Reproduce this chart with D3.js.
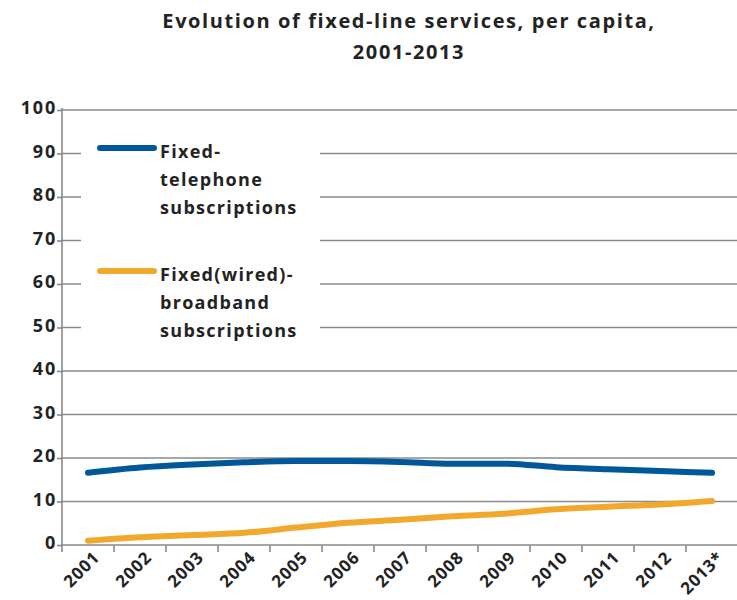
<!DOCTYPE html>
<html>
<head>
<meta charset="utf-8">
<script src="https://cdn.jsdelivr.net/npm/d3@7"></script>
<style>
  body { margin: 0; background: #fff; }
  svg { display: block; }
  text { font-family: "Open Sans", "DejaVu Sans", sans-serif; font-weight: bold; fill: #232323; }
</style>
</head>
<body>
<svg id="chart" width="737" height="600"></svg>
<script>
const years = ["2001","2002","2003","2004","2005","2006","2007","2008","2009","2010","2011","2012","2013*"];
const fixedTelephone = [16.6, 17.8, 18.5, 19.0, 19.3, 19.3, 19.1, 18.7, 18.7, 17.9, 17.4, 17.0, 16.6];
const fixedBroadband = [1.0, 1.8, 2.3, 2.8, 4.0, 5.1, 5.8, 6.6, 7.2, 8.2, 8.8, 9.3, 10.1];
const yTicks = [0, 10, 20, 30, 40, 50, 60, 70, 80, 90, 100];
const titleLines = ["Evolution of fixed-line services, per capita,", "2001-2013"];
const seriesNames = [["Fixed-", "telephone", "subscriptions"], ["Fixed(wired)-", "broadband", "subscriptions"]];
const seriesColors = ["#00589a", "#f2a82c"];

(function () {
const svg = d3.select("#chart");
const mLeft = 62, mRight = 738, mTop = 110, mBottom = 545;
const gridColor = "#8a8a8a";

const x = d3.scaleBand().domain(years).range([mLeft, mRight]).padding(0);
const y = d3.scaleLinear().domain([0, 100]).range([mBottom, mTop]);

// title
svg.selectAll("text.title").data(titleLines).enter().append("text")
  .attr("class", "title")
  .attr("x", 409).attr("y", (d, i) => 28 + i * 31)
  .attr("text-anchor", "middle")
  .style("font-size", "20px")
  .style("letter-spacing", "1.6px")
  .text(d => d);

// gridlines
svg.append("g").selectAll("line").data(yTicks.filter(t => t > 0)).enter().append("line")
  .attr("x1", mLeft).attr("x2", 737)
  .attr("y1", d => y(d)).attr("y2", d => y(d))
  .attr("stroke", gridColor).attr("stroke-width", 1.6);

// y axis
const yAxis = d3.axisLeft(y).tickValues(yTicks).tickSize(5).tickPadding(0);
const gy = svg.append("g").attr("transform", `translate(${mLeft},0)`).call(yAxis);
gy.select(".domain").attr("stroke", gridColor).attr("stroke-width", 1.6)
  .attr("d", `M0,${mTop - 2}V${mBottom + 7}`);
gy.selectAll(".tick line").attr("stroke", gridColor).attr("stroke-width", 1.6);
gy.selectAll(".tick text").style("font-size", "18px").style("font-family", "'Open Sans', sans-serif")
  .style("font-weight", "bold").style("letter-spacing", "1.8px").attr("fill", "#232323")
  .attr("dy", "0.22em");

// x axis
const gx = svg.append("g").attr("transform", `translate(0,${mBottom})`);
gx.append("line").attr("x1", mLeft).attr("x2", 737).attr("y1", 0).attr("y2", 0)
  .attr("stroke", gridColor).attr("stroke-width", 1.6);
gx.selectAll("line.tk").data(years.slice(1)).enter().append("line")
  .attr("class", "tk")
  .attr("x1", d => x(d)).attr("x2", d => x(d))
  .attr("y1", 0).attr("y2", 7)
  .attr("stroke", gridColor).attr("stroke-width", 1.6);
gx.selectAll("text").data(years).enter().append("text")
  .attr("transform", d => `translate(${x(d) + x.bandwidth() / 2 + 9},${10}) rotate(-45)`)
  .attr("text-anchor", "end")
  .attr("dy", "0.3em")
  .style("font-size", "17px")
  .style("letter-spacing", "0.8px")
  .text(d => d);

// lines
const line = d3.line()
  .x((d, i) => x(years[i]) + x.bandwidth() / 2)
  .y(d => y(d))
  .curve(d3.curveMonotoneX);

[fixedTelephone, fixedBroadband].forEach((s, k) => {
  svg.append("path").datum(s)
    .attr("d", line)
    .attr("fill", "none")
    .attr("stroke", seriesColors[k])
    .attr("stroke-width", 6)
    .attr("stroke-linecap", "round")
    .attr("stroke-linejoin", "round");
});

// legend box (covers gridlines)
svg.append("rect").attr("x", 81).attr("y", 132).attr("width", 239).attr("height", 218).attr("fill", "#fff");

const legendY = [148, 271];
seriesNames.forEach((lines, k) => {
  svg.append("line")
    .attr("x1", 100).attr("x2", 154)
    .attr("y1", legendY[k]).attr("y2", legendY[k])
    .attr("stroke", seriesColors[k]).attr("stroke-width", 6).attr("stroke-linecap", "round");
  svg.append("g").selectAll("text").data(lines).enter().append("text")
    .attr("x", 160)
    .attr("y", (d, i) => legendY[k] + 10 + i * 28)
    .style("font-size", "18px")
    .style("letter-spacing", "1.3px")
    .text(d => d);
});
})();
</script>
</body>
</html>
